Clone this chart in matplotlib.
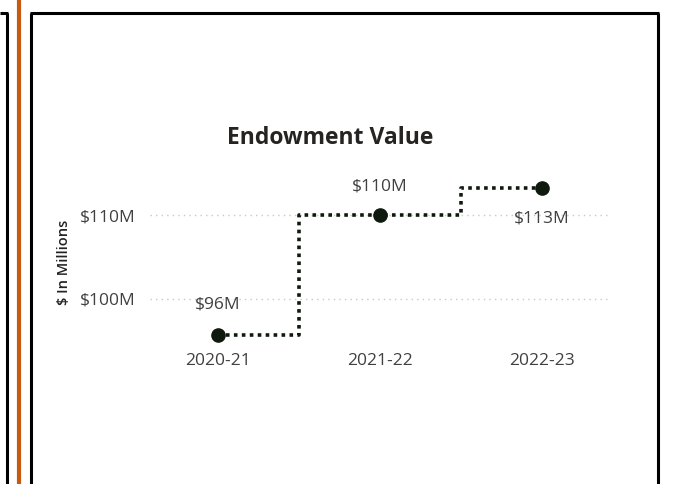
import matplotlib
matplotlib.use("Agg")
import matplotlib.pyplot as plt
from matplotlib.lines import Line2D

# data
years = ["2020-21", "2021-22", "2022-23"]
values = [95.7, 110.0, 113.2]
labels = ["$96M", "$110M", "$113M"]
yticks = [100, 110]
ytick_labels = ["$100M", "$110M"]

plt.rcParams['font.family'] = ['Open Sans', 'DejaVu Sans']

W, H = 673, 484
fig = plt.figure(figsize=(W / 100, H / 100), dpi=100)


def px_line(x0, y0, x1, y1, color, lw):
    fig.add_artist(Line2D([x0 / W, x1 / W], [1 - y0 / H, 1 - y1 / H],
                          transform=fig.transFigure, color=color, lw=lw,
                          solid_capstyle="butt"))


# panel frames around the chart
px_line(0, 13, 8, 13, "black", 2.2)
px_line(7, 13, 7, H, "black", 2.2)
px_line(19, 0, 19, H, "#C55A11", 3.0)
px_line(31, 13, 31, H, "black", 2.2)
px_line(30, 13, 659, 13, "black", 2.2)
px_line(658, 13, 658, H, "black", 2.2)

ax = fig.add_axes([150 / W, 1 - 345 / H, 458 / W, 165 / H])
x = list(range(len(years)))
ax.step(x, values, where="mid", color="#0d1a0d", lw=2.6, linestyle=(0, (1, 1.2)))
ax.plot(x, values, "o", color="#0d1a0d", markersize=9.5, zorder=3)

ax.set_xlim(-0.42, 2.41)
ax.set_ylim(94.5, 114.2)
ax.set_xticks(x)
ax.set_xticklabels(years, fontsize=12.5, color="#404040")
ax.set_yticks(yticks)
ax.set_yticklabels(ytick_labels, fontsize=12.5, color="#404040")
ax.tick_params(length=0)
ax.tick_params(axis="y", pad=10)
ax.tick_params(axis="x", pad=6)
for s in ax.spines.values():
    s.set_visible(False)
ax.grid(axis="y", color="#c8c8c8", linestyle=(0, (1, 3)), lw=1)
ax.set_axisbelow(True)

offsets = [(0, 22), (0, 21), (0, -22)]
for xi, v, lab, off in zip(x, values, labels, offsets):
    ax.annotate(lab, (xi, v), xytext=off, textcoords="offset points",
                ha="center", va="center", fontsize=12.5, color="#404040")

ax.yaxis.set_label_coords(-0.172, 0.53)
ax.set_ylabel("$ In Millions", fontsize=10.5, fontweight="semibold", color="#222222")
fig.text(330 / W, 1 - 138 / H, "Endowment Value", ha="center", va="center",
         fontsize=16.5, fontweight="bold", color="#252423")

fig.savefig("out.png", dpi=100)
